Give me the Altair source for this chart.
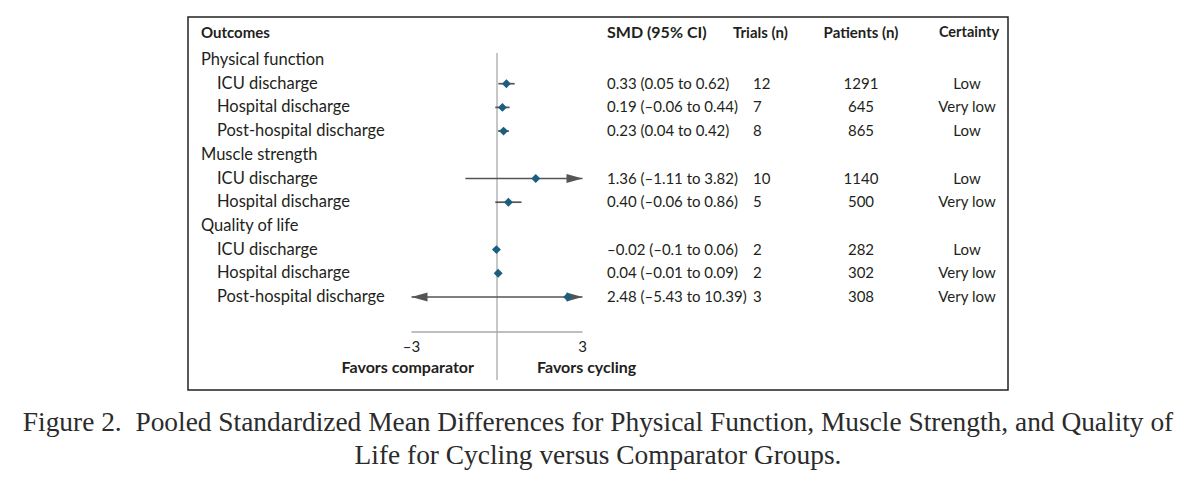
import altair as alt
import pandas as pd

# ---------------- data ----------------
outcomes = ["Physical function", "ICU discharge", "Hospital discharge", "Post-hospital discharge",
            "Muscle strength", "ICU discharge", "Hospital discharge",
            "Quality of life", "ICU discharge", "Hospital discharge", "Post-hospital discharge"]
is_group = [True, False, False, False, True, False, False, True, False, False, False]
smd = [None, 0.33, 0.19, 0.23, None, 1.36, 0.40, None, -0.02, 0.04, 2.48]
ci_low = [None, 0.05, -0.06, 0.04, None, -1.11, -0.06, None, -0.1, -0.01, -5.43]
ci_high = [None, 0.62, 0.44, 0.42, None, 3.82, 0.86, None, 0.06, 0.09, 10.39]
smd_text = ["", "0.33 (0.05 to 0.62)", "0.19 (–0.06 to 0.44)", "0.23 (0.04 to 0.42)",
            "", "1.36 (–1.11 to 3.82)", "0.40 (–0.06 to 0.86)",
            "", "–0.02 (–0.1 to 0.06)", "0.04 (–0.01 to 0.09)", "2.48 (–5.43 to 10.39)"]
trials = ["", "12", "7", "8", "", "10", "5", "", "2", "2", "3"]
patients = ["", "1291", "645", "865", "", "1140", "500", "", "282", "302", "308"]
certainty = ["", "Low", "Very low", "Low", "", "Low", "Very low", "", "Low", "Very low", "Very low"]
headers = ["Outcomes", "SMD (95% CI)", "Trials (n)", "Patients (n)", "Certainty"]
axis_ticks = [-3, 3]
axis_labels = ["–3", "3"]
favors = ["Favors comparator", "Favors cycling"]
caption = ["Figure 2.\u00a0 Pooled Standardized Mean Differences for Physical Function, Muscle Strength, and Quality of",
           "Life for Cycling versus Comparator Groups."]

# ---------------- layout ----------------
W, H = 820, 373
ZERO_PX, PX_PER_UNIT = 309.0, 28.5      # x position of 0 and pixels per SMD unit
ROW1_PX, ROW_STEP = 43.0, 23.7          # y of first row and row spacing
x_dom = [-ZERO_PX / PX_PER_UNIT, (W - ZERO_PX) / PX_PER_UNIT]
y_dom = [1 - ROW1_PX / ROW_STEP, 1 + (H - ROW1_PX) / ROW_STEP]

AX_MIN, AX_MAX = axis_ticks[0], axis_ticks[-1]

rows = pd.DataFrame({
    "row": list(range(1, len(outcomes) + 1)),
    "label": outcomes,
    "group": is_group,
    "smd": smd,
    "lo": ci_low,
    "hi": ci_high,
    "smd_text": smd_text,
    "trials": trials,
    "patients": patients,
    "certainty": certainty,
})
est = rows[~rows["group"]].copy()
est["lo_c"] = est["lo"].clip(lower=AX_MIN)
est["hi_c"] = est["hi"].clip(upper=AX_MAX)
right_arrows = est[est["hi"] > AX_MAX].assign(xa=AX_MAX)[["row", "xa"]]
left_arrows = est[est["lo"] < AX_MIN].assign(xa=AX_MIN)[["row", "xa"]]
est = est[["row", "smd", "lo_c", "hi_c", "smd_text", "trials", "patients", "certainty"]]
groups = rows[rows["group"]][["row", "label"]]
subs = rows[~rows["group"]][["row", "label"]]
ticks_df = pd.DataFrame({"v": axis_ticks, "t": axis_labels})
axis_df = pd.DataFrame({"a": [AX_MIN], "b": [AX_MAX], "z": [0]})
one = pd.DataFrame({"k": [0]})

FONT = "Lato"
TXT = "#231f20"
xs = alt.Scale(domain=x_dom, nice=False, zero=False)
ys = alt.Scale(domain=y_dom, nice=False, zero=False, reverse=True)


def X(f):
    return alt.X(f, type="quantitative", scale=xs, axis=None)


def Y():
    return alt.Y("row:Q", scale=ys, axis=None)


zero_line = alt.Chart(axis_df).mark_rule(color="#b5b5b5", strokeWidth=1.5).encode(
    x=X("z"), y=alt.value(36), y2=alt.value(363))

axis_line = alt.Chart(axis_df).mark_rule(color="#a8a8a8", strokeWidth=1.5).encode(
    x=X("a"), x2="b", y=alt.value(315))

tick_text = alt.Chart(ticks_df).mark_text(font=FONT, fontSize=15, color=TXT, baseline="middle").encode(
    x=X("v"), y=alt.value(330), text="t:N")

fav_kw = dict(font=FONT, fontSize=16, fontWeight="bold", color=TXT, baseline="middle")
fav_left = alt.Chart(one).mark_text(align="right", text=favors[0], **fav_kw).encode(
    x=alt.value(286), y=alt.value(351))
fav_right = alt.Chart(one).mark_text(align="left", text=favors[1], **fav_kw).encode(
    x=alt.value(349), y=alt.value(351))

ci_lines = alt.Chart(est).mark_rule(color="#555555", strokeWidth=1.7).encode(
    x=X("lo_c"), x2="hi_c", y=Y())

arrow_r = alt.Chart(right_arrows).mark_point(shape="M0,0L-2,-0.55L-2,0.55Z", size=256, filled=True,
                                             opacity=1, color="#555555").encode(x=X("xa"), y=Y())
arrow_l = alt.Chart(left_arrows).mark_point(shape="M0,0L2,-0.55L2,0.55Z", size=256, filled=True,
                                            opacity=1, color="#555555").encode(x=X("xa"), y=Y())

diamonds = alt.Chart(est).mark_point(shape="diamond", size=80, filled=True, opacity=1,
                                     color="#1b5e80").encode(x=X("smd"), y=Y())

hdr_pos = [(13, "left", 15), (419, "left", 16), (545, "left", 15), (673, "center", 15), (781, "center", 14.5)]
header_layers = [
    alt.Chart(one).mark_text(align=al, text=h, font=FONT, fontSize=fs, fontWeight="bold",
                             color=TXT, baseline="middle").encode(x=alt.value(px), y=alt.value(16))
    for h, (px, al, fs) in zip(headers, hdr_pos)
]

lab_kw = dict(font=FONT, fontSize=16.5, color=TXT, baseline="middle")
num_kw = dict(font=FONT, fontSize=15, color=TXT, baseline="middle")
group_text = alt.Chart(groups).mark_text(align="left", **lab_kw).encode(
    x=alt.value(13), y=Y(), text="label:N")
sub_text = alt.Chart(subs).mark_text(align="left", **lab_kw).encode(
    x=alt.value(29), y=Y(), text="label:N")
smd_col = alt.Chart(est).mark_text(align="left", **num_kw).encode(x=alt.value(419), y=Y(), text="smd_text:N")
trials_col = alt.Chart(est).mark_text(align="left", **num_kw).encode(x=alt.value(565), y=Y(), text="trials:N")
pat_col = alt.Chart(est).mark_text(align="center", **num_kw).encode(x=alt.value(673), y=Y(), text="patients:N")
cert_col = alt.Chart(est).mark_text(align="center", **num_kw).encode(x=alt.value(779), y=Y(), text="certainty:N")

chart = alt.layer(
    zero_line, axis_line, tick_text, fav_left, fav_right,
    ci_lines, arrow_r, arrow_l, diamonds,
    *header_layers, group_text, sub_text, smd_col, trials_col, pat_col, cert_col,
).properties(
    width=W, height=H,
    autosize=alt.AutoSizeParams(type="none"),
    padding={"left": 180, "top": 9, "right": 176, "bottom": 90},
    background="white",
    title=alt.TitleParams(text=caption, orient="bottom", anchor="middle", font="Liberation Serif",
                          fontSize=27.4, fontWeight="normal", color="#2b2b2b", lineHeight=33, offset=19),
).configure_view(stroke="#222222", strokeWidth=1.5)

chart.save("out.html", embed_options={"renderer": "svg", "actions": False})
